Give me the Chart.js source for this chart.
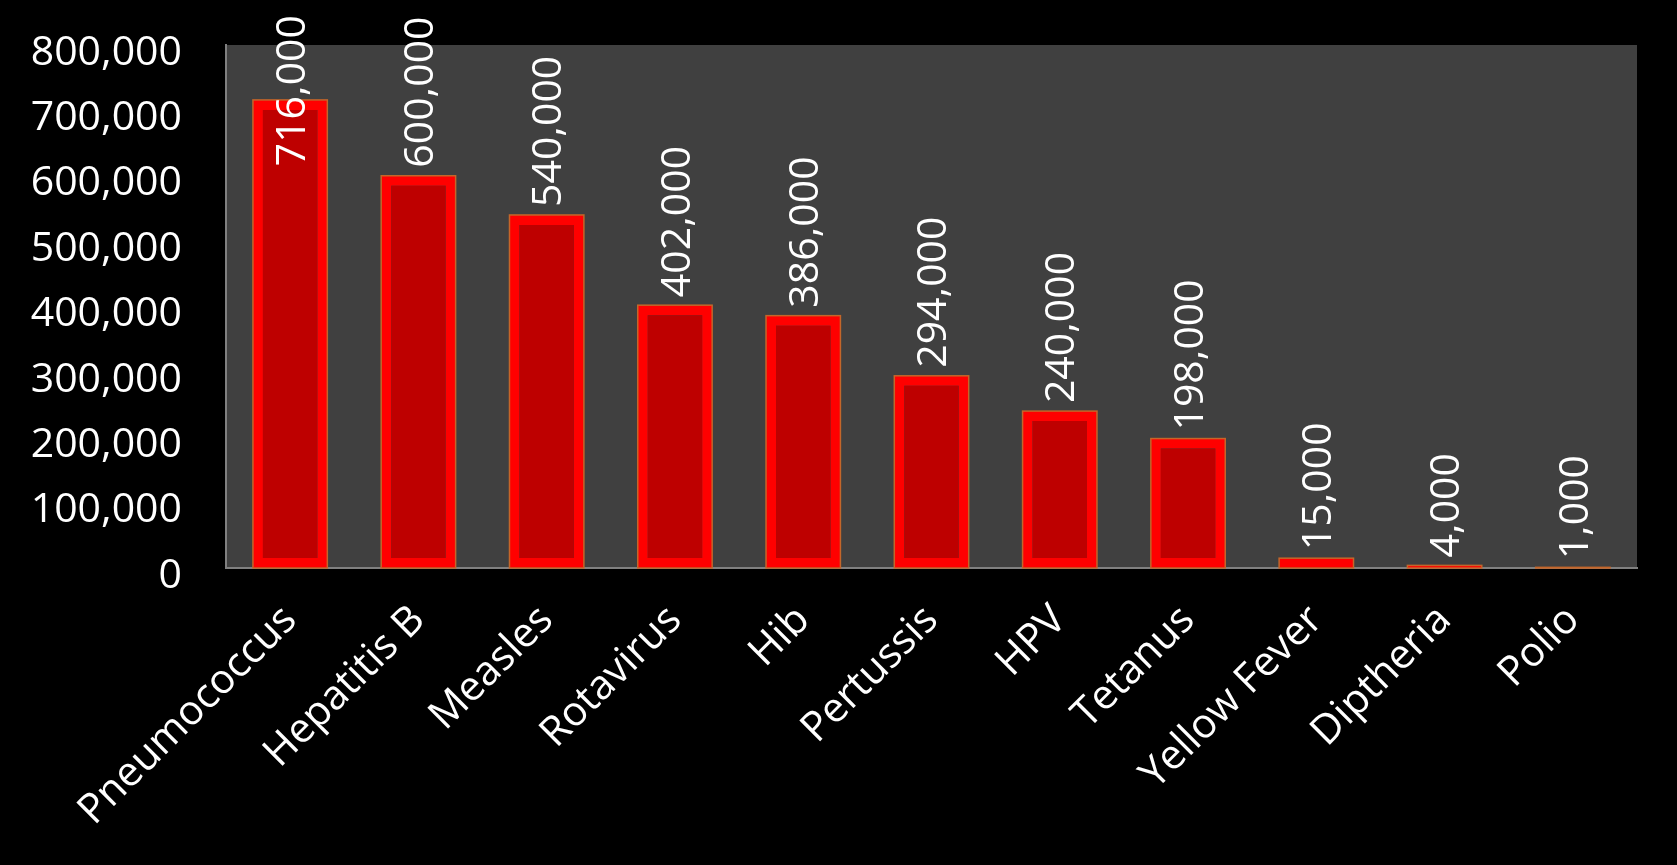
<!DOCTYPE html>
<html>
<head>
<meta charset="utf-8">
<script src="https://cdn.jsdelivr.net/npm/chart.js@4"></script>
<style>
  html, body { margin: 0; padding: 0; background: #000; }
  #wrap { width: 1677px; height: 865px; position: relative; }
</style>
</head>
<body>
<div id="wrap"><canvas id="myChart"></canvas></div>
<script>
// vaccine-preventable deaths per disease
const diseases = ['Pneumococcus', 'Hepatitis B', 'Measles', 'Rotavirus', 'Hib', 'Pertussis',
                  'HPV', 'Tetanus', 'Yellow Fever', 'Diptheria', 'Polio'];
const deaths = [716000, 600000, 540000, 402000, 386000, 294000, 240000, 198000, 15000, 4000, 1000];
const yMax = 800000;
const yStep = 100000;

const FONT = '"Open Sans", "Liberation Sans", sans-serif';

// dark grey plot area behind the bars
const plotBg = {
  id: 'plotBg',
  beforeDraw(chart) {
    const { ctx, chartArea: a } = chart;
    ctx.save();
    ctx.fillStyle = '#404040';
    ctx.fillRect(a.left, a.top, a.right - a.left, a.bottom - a.top);
    ctx.restore();
  }
};

// outline round each bar + vertical value labels above it
const barLabels = {
  id: 'barLabels',
  afterDatasetsDraw(chart) {
    const ctx = chart.ctx;
    const meta = chart.getDatasetMeta(0);
    ctx.save();
    meta.data.forEach((bar, i) => {
      const w = bar.width;
      ctx.strokeStyle = '#c4662a';
      ctx.lineWidth = 1.5;
      ctx.strokeRect(bar.x - w / 2, bar.y, w, bar.base - bar.y);

      const txt = deaths[i].toLocaleString('en-US');
      ctx.font = '41px ' + FONT;
      const tw = ctx.measureText(txt).width;
      let start = bar.y - 8;
      if (start - tw < 15) start = tw + 15;
      ctx.save();
      ctx.translate(bar.x + 3, start);
      ctx.rotate(-Math.PI / 2);
      ctx.fillStyle = '#ffffff';
      ctx.textAlign = 'left';
      ctx.textBaseline = 'middle';
      ctx.fillText(txt, 0, 0);
      ctx.restore();
    });
    ctx.restore();
  }
};

const ctx = document.getElementById('myChart');
new Chart(ctx, {
  type: 'bar',
  data: {
    labels: diseases,
    datasets: [{
      data: deaths,
      backgroundColor: '#be0000',
      borderColor: '#ff0000',
      borderWidth: 10,
      borderSkipped: false,
      categoryPercentage: 1,
      barPercentage: 0.58
    }]
  },
  options: {
    responsive: true,
    maintainAspectRatio: false,
    animation: false,
    layout: { padding: { top: 45, right: 40, left: 0, bottom: 0 } },
    plugins: {
      legend: { display: false },
      tooltip: { enabled: false }
    },
    scales: {
      x: {
        grid: { display: false, drawTicks: false },
        border: { display: true, color: '#808080', width: 2 },
        ticks: {
          color: '#ffffff',
          font: { family: FONT, size: 41 },
          minRotation: 45,
          maxRotation: 45,
          padding: 28
        },
        afterFit(scale) { scale.height = 297; }
      },
      y: {
        min: 0,
        max: yMax,
        grid: { display: false, drawTicks: false },
        border: { display: true, color: '#808080', width: 2 },
        ticks: {
          stepSize: yStep,
          color: '#ffffff',
          font: { family: FONT, size: 41 },
          padding: 44,
          labelOffset: 8,
          callback: v => v.toLocaleString('en-US')
        },
        afterFit(scale) {
          scale.width = 226;
          scale.paddingTop = 0;
          scale.paddingBottom = 0;
        }
      }
    }
  },
  plugins: [plotBg, barLabels]
});
</script>
</body>
</html>
